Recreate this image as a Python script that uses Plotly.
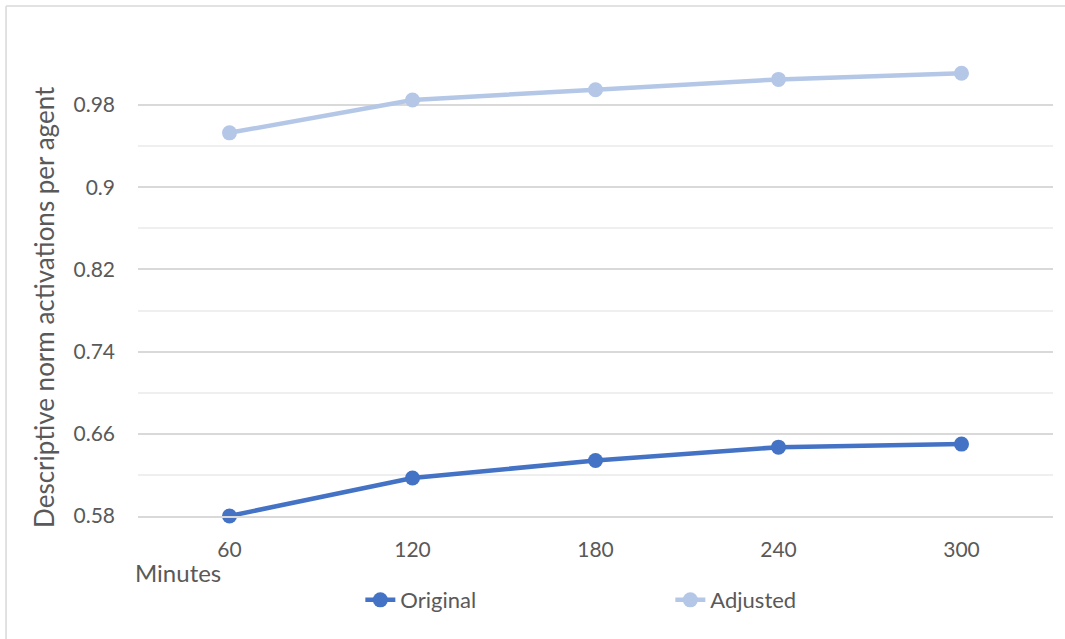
import plotly.graph_objects as go

# Elapsed time (minutes) and descriptive norm activations per agent
minutes = ["60", "120", "180", "240", "300"]
original = [0.580, 0.617, 0.634, 0.647, 0.650]
adjusted = [0.953, 0.985, 0.995, 1.005, 1.011]

y_ticks = [0.58, 0.66, 0.74, 0.82, 0.90, 0.98]
y_tick_text = ["0.58", "0.66", "0.74", "0.82", "0.9", "0.98"]

FONT = "Lato, 'Open Sans', sans-serif"
TEXT = "#595959"

fig = go.Figure()
fig.add_trace(go.Scatter(
    x=minutes, y=original, name="Original", mode="lines+markers",
    line=dict(color="#4472C4", width=4.5),
    marker=dict(color="#4472C4", size=15),
    cliponaxis=False,
))
fig.add_trace(go.Scatter(
    x=minutes, y=adjusted, name="Adjusted", mode="lines+markers",
    line=dict(color="#B4C7E7", width=4.5),
    marker=dict(color="#B4C7E7", size=15),
    cliponaxis=False,
))

fig.update_layout(
    width=1065, height=639,
    margin=dict(l=138, r=12, t=64, b=123),
    paper_bgcolor="white", plot_bgcolor="white",
    font=dict(family=FONT, size=21, color=TEXT),
    showlegend=True,
    legend=dict(
        orientation="h", x=0.243, xanchor="left", y=-0.186, yanchor="middle",
        font=dict(family=FONT, size=22, color=TEXT),
        entrywidth=265, entrywidthmode="pixels", itemwidth=30,
        traceorder="normal",
    ),
    xaxis=dict(
        type="category", range=[-0.5, 4.5],
        showgrid=False, showline=True, linecolor="#d9d9d9", linewidth=1.5,
        ticks="", ticklen=0, ticklabelstandoff=14,
        tickfont=dict(size=21, color=TEXT),
        fixedrange=True,
    ),
    yaxis=dict(
        range=[0.58, 1.02],
        tickvals=y_ticks, ticktext=y_tick_text,
        showgrid=True, gridcolor="#d9d9d9", gridwidth=1.5,
        minor=dict(dtick=0.04, tick0=0.58, showgrid=True, gridcolor="#efefef", gridwidth=1.5),
        zeroline=False, showline=False, ticks="", ticklabelstandoff=22,
        tickfont=dict(size=21, color=TEXT),
    ),
    annotations=[
        dict(text="Descriptive norm activations per agent",
             xref="paper", yref="paper", x=-0.103, y=0.462,
             xanchor="center", yanchor="middle", textangle=-90,
             showarrow=False, font=dict(size=26, color=TEXT)),
        dict(text="Minutes", xref="paper", yref="paper",
             x=-0.006, y=-0.124, xanchor="left", yanchor="middle",
             showarrow=False, font=dict(size=24, color=TEXT)),
    ],
    shapes=[
        dict(type="line", xref="paper", yref="paper",
             x0=-0.1442, x1=1.2, y0=1.1283, y1=1.1283,
             line=dict(color="#d9d9d9", width=1.5)),
        dict(type="line", xref="paper", yref="paper",
             x0=-0.1442, x1=-0.1442, y0=1.1283, y1=-0.3,
             line=dict(color="#d9d9d9", width=1.5)),
    ],
)

fig.write_html("out.html")
